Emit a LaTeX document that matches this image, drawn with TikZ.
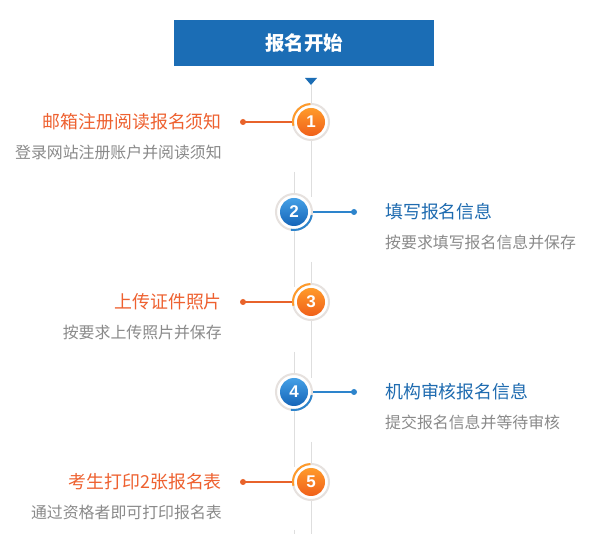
\documentclass[tikz,border=0pt]{standalone}
\usepackage{fontspec}
\newfontfamily\cjk{Noto Sans CJK SC}
\newfontfamily\numfont{Liberation Sans}
\definecolor{hblue}{HTML}{1B6DB5}
\definecolor{otitle}{HTML}{EE6130}
\definecolor{btitle}{HTML}{1E6BB0}
\definecolor{subgray}{HTML}{8A8A8A}
\definecolor{vline}{HTML}{DEDEDE}
\definecolor{ringc}{HTML}{E6E1DE}
\definecolor{oline}{HTML}{E8632B}
\definecolor{bline}{HTML}{2D84CC}
\definecolor{otop}{HTML}{FF9A2A}
\definecolor{obot}{HTML}{F0601A}
\definecolor{btop}{HTML}{45A0E6}
\definecolor{bbot}{HTML}{1565B8}
\begin{document}
\begin{tikzpicture}[x=1pt,y=1pt,
  ring/.style={circle,draw=ringc,line width=2pt,fill=white,minimum size=36pt,inner sep=0pt},
  ocirc/.style={circle,minimum size=28pt,inner sep=0pt,top color=otop,bottom color=obot,text=white,font=\numfont\bfseries\fontsize{17}{17}\selectfont},
  bcirc/.style={circle,minimum size=28pt,inner sep=0pt,top color=btop,bottom color=bbot,text=white,font=\numfont\bfseries\fontsize{17}{17}\selectfont},
  odot/.style={circle,fill=oline,minimum size=6pt,inner sep=0pt},
  bdot/.style={circle,fill=bline,minimum size=6pt,inner sep=0pt},
  otitlestyle/.style={text=otitle,font=\cjk\fontsize{17.9}{20}\selectfont,inner sep=0pt},
  btitlestyle/.style={text=btitle,font=\cjk\fontsize{17.9}{20}\selectfont,inner sep=0pt},
  substyle/.style={text=subgray,font=\cjk\fontsize{15.9}{18}\selectfont,inner sep=0pt},
  vl/.style={draw=vline,line width=1pt}
]
\useasboundingbox[fill=white] (0,0) rectangle (611,-534);

% header
\node[fill=hblue,minimum width=260pt,minimum height=46pt,inner sep=0pt,text=white,
  font=\cjk\bfseries\fontsize{19.5}{22}\selectfont] (head) at (304,-43) {报名开始};
\fill[hblue] (305,-78) -- (317,-78) -- (311,-85) -- cycle;

% vertical line segments
\coordinate (r1a) at (311,-85);  \coordinate (r1b) at (311,-197);
\coordinate (l2a) at (294,-172); \coordinate (l2b) at (294,-287);
\coordinate (r3a) at (311,-262); \coordinate (r3b) at (311,-378);
\coordinate (l4a) at (294,-352); \coordinate (l4b) at (294,-467);
\coordinate (r5a) at (311,-442); \coordinate (r5b) at (311,-534);
\coordinate (l6a) at (294,-530); \coordinate (l6b) at (294,-534);
\draw[vl] (r1a) -- (r1b);
\draw[vl] (l2a) -- (l2b);
\draw[vl] (r3a) -- (r3b);
\draw[vl] (l4a) -- (l4b);
\draw[vl] (r5a) -- (r5b);
\draw[vl] (l6a) -- (l6b);

% orange steps (circle on right line, labels on the left)
\foreach \n/\y/\t/\s in {1/122/邮箱注册阅读报名须知/登录网站注册账户并阅读须知,
                         3/302/上传证件照片/按要求上传照片并保存,
                         5/482/考生打印2张报名表/通过资格者即可打印报名表}{
  \node[ring] (r\n) at (311,-\y) {};
  \draw[otop,line width=2pt] (r\n.center) ++(92:18pt) arc[start angle=92,end angle=192,radius=18pt];
  \node[ocirc] (c\n) at (r\n.center) {\n};
  \node[odot] (d\n) at (243,-\y) {};
  \draw[oline,line width=1.2pt] (d\n.center) -- (r\n);
  \node[otitlestyle,anchor=east] (t\n) at (222,-\y) {\t};
  \node[substyle,anchor=east] (s\n) at (222,-\y-30) {\s};
}

% blue steps (circle on left line, labels on the right)
\foreach \n/\y/\t/\s in {2/212/填写报名信息/按要求填写报名信息并保存,
                         4/392/机构审核报名信息/提交报名信息并等待审核}{
  \node[ring] (r\n) at (294,-\y) {};
  \draw[bline,line width=2pt] (r\n.center) ++(260:18pt) arc[start angle=260,end angle=350,radius=18pt];
  \node[bcirc] (c\n) at (r\n.center) {\n};
  \node[bdot] (d\n) at (354,-\y) {};
  \draw[bline,line width=1.2pt] (r\n) -- (d\n.center);
  \node[btitlestyle,anchor=west] (t\n) at (385,-\y) {\t};
  \node[substyle,anchor=west] (s\n) at (385,-\y-30) {\s};
}
\end{tikzpicture}
\end{document}
